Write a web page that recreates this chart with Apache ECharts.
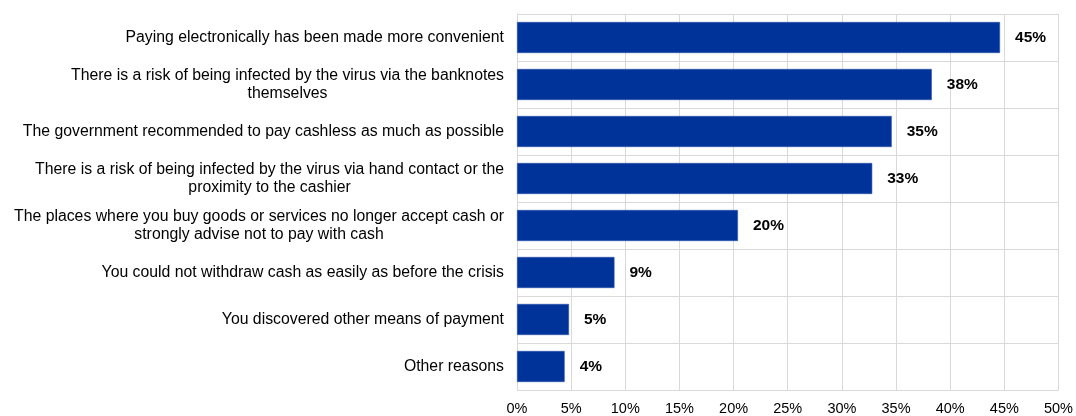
<!DOCTYPE html>
<html><head><meta charset="utf-8">
<script src="https://cdn.jsdelivr.net/npm/echarts@6/dist/echarts.min.js"></script>
<style>html,body{margin:0;padding:0;background:#fff}#c{width:1076px;height:416px}</style>
</head><body><div id="c"></div>
<script>
var categories = [
  "Paying electronically has been made more convenient",
  "There is a risk of being infected by the virus via the banknotes\nthemselves",
  "The government recommended to pay cashless as much as possible",
  "There is a risk of being infected by the virus via hand contact or the\nproximity to the cashier",
  "The places where you buy goods or services no longer accept cash or\nstrongly advise not to pay with cash",
  "You could not withdraw cash as easily as before the crisis",
  "You discovered other means of payment",
  "Other reasons"
];
var values = [44.6, 38.3, 34.6, 32.8, 20.4, 9.0, 4.8, 4.4];
var xTicks = [0, 5, 10, 15, 20, 25, 30, 35, 40, 45, 50];

var chart = echarts.init(document.getElementById('c'));
chart.setOption({
  animation: false,
  grid: {left: 517, right: 16, top: 14, bottom: 26, containLabel: false},
  xAxis: {
    type: 'value', min: xTicks[0], max: xTicks[xTicks.length-1], interval: 5,
    axisLine: {show: false}, axisTick: {show: false},
    splitLine: {show: true, lineStyle: {color: '#d9d9d9', width: 1}},
    axisLabel: {formatter: '{value}%', color: '#000', fontSize: 14.5, fontFamily: 'Liberation Sans', margin: 11}
  },
  yAxis: {
    type: 'category', data: categories, inverse: true,
    axisLine: {show: true, lineStyle: {color: '#d9d9d9'}}, axisTick: {show: false},
    splitLine: {show: true, lineStyle: {color: '#d9d9d9', width: 1}},
    axisLabel: {
      margin: 13, color: '#000', fontSize: 15.8, fontFamily: 'Liberation Sans', lineHeight: 18,
      formatter: function (v) { return v.split('\n').map(function (l) { return '{c|' + l + '}'; }).join('\n'); },
      rich: {c: {align: 'center', fontSize: 15.8, fontFamily: 'Liberation Sans', color: '#000', lineHeight: 18}}
    }
  },
  series: [{
    type: 'bar', data: values, barCategoryGap: '34%',
    itemStyle: {color: '#003399', borderColor: '#2a52b0', borderWidth: 0.6},
    label: {show: true, position: 'right', distance: 15, color: '#000', fontWeight: 'bold',
      fontSize: 15.5, fontFamily: 'Liberation Sans',
      formatter: function (p) { return Math.round(p.value) + '%'; }}
  }]
});
</script></body></html>
